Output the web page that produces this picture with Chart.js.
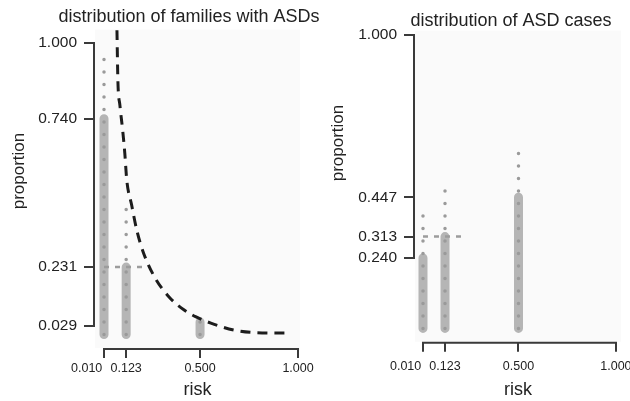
<!DOCTYPE html>
<html>
<head>
<meta charset="utf-8">
<script src="https://cdn.jsdelivr.net/npm/chart.js@4.4.1/dist/chart.umd.min.js"></script>
<style>
  html, body { margin: 0; padding: 0; background: #fff; }
  #wrap { position: relative; width: 630px; height: 401px; overflow: hidden; }
  canvas { position: absolute; top: 0; }
  #families { left: 0; }
  #cases { left: 315px; }
</style>
</head>
<body>
<div id="wrap">
  <canvas id="families" width="378" height="401"></canvas>
  <canvas id="cases" width="315" height="401"></canvas>
</div>
<script>
// ticks shown on the range frames
const riskTicks = [0.010, 0.123, 0.500, 1.000];
const familyTicks = [0.029, 0.231, 0.740, 1.000];
const caseTicks = [0.240, 0.313, 0.447, 1.000];

// left panel: distribution of families
const familyRisk = [0.010, 0.123, 0.500];
const familyTop = [0.740, 0.231, 0.043];
const familyDotTop = [0.975, 0.430, 0.043];
const familyLevel = 0.231;
const familyLevelEnd = 0.232;

// dashed curve in the left panel
const curveRisk = [0.076, 0.081, 0.091, 0.106, 0.116, 0.126, 0.151, 0.177, 0.212, 0.268, 0.343, 0.419, 0.480, 0.555, 0.672, 0.788, 0.909, 0.955];
const curveProp = [1.044, 0.866, 0.787, 0.695, 0.622, 0.530, 0.444, 0.358, 0.279, 0.197, 0.128, 0.084, 0.060, 0.039, 0.015, 0.006, 0.005, 0.005];

// right panel: distribution of cases
const caseRisk = [0.010, 0.123, 0.500];
const caseTop = [0.240, 0.313, 0.447];
const caseDotTop = [0.397, 0.496, 0.618];
const caseLevel = 0.313;
const caseLevelEnd = 0.225;

const FONT = "'Liberation Sans', Arial, Helvetica, sans-serif";
Chart.defaults.font.family = FONT;
Chart.defaults.color = '#222';

// vertical segments from 0 up to each top, broken by nulls
function columns(xs, tops) {
    const pts = [];
    xs.forEach(function(x, i) {
        pts.push({x: x, y: 0}, {x: x, y: tops[i]}, {x: x, y: null});
    });
    return pts;
}

// range frame axes, panel title and rotated y title
const framePlugin = {
    id: 'frame',
    beforeDraw(chart) {
        const a = chart.chartArea, ctx = chart.ctx;
        ctx.save();
        ctx.fillStyle = '#fafafa';
        ctx.fillRect(a.left, a.top, a.right - a.left, a.bottom - a.top);
        ctx.restore();
    },
    afterDraw(chart, args, opts) {
        const ctx = chart.ctx;
        const xs = chart.scales.x, ys = chart.scales.y;
        const xt = xs.ticks, yt = ys.ticks;
        ctx.save();
        ctx.strokeStyle = '#3a3a3a';
        ctx.lineWidth = 2;
        ctx.lineCap = 'square';
        ctx.beginPath();
        ctx.moveTo(xs.getPixelForValue(xt[0].value), xs.top + 1);
        ctx.lineTo(xs.getPixelForValue(xt[xt.length - 1].value), xs.top + 1);
        ctx.moveTo(ys.right - 1, ys.getPixelForValue(yt[0].value));
        ctx.lineTo(ys.right - 1, ys.getPixelForValue(yt[yt.length - 1].value));
        ctx.stroke();

        ctx.fillStyle = '#222';
        ctx.textAlign = 'center';
        ctx.font = '18px ' + FONT;
        ctx.textBaseline = 'alphabetic';
        ctx.fillText(opts.heading, opts.headingX, opts.headingY);

        ctx.translate(opts.yTitleX, opts.yTitleY);
        ctx.rotate(-Math.PI / 2);
        ctx.font = '17px ' + FONT;
        ctx.textBaseline = 'middle';
        ctx.fillText('proportion', 0, 0);
        ctx.restore();
    }
};

function makePanel(id, cfg) {
    const datasets = [];
    if (cfg.curveX) {
        datasets.push({
            data: cfg.curveX.map(function(x, i) { return {x: x, y: cfg.curveY[i]}; }),
            borderColor: '#1c1c1c',
            borderWidth: 3,
            borderDash: [10, 7],
            cubicInterpolationMode: 'monotone',
            pointRadius: 0
        });
    }
    datasets.push({
        data: [{x: cfg.risk[0], y: cfg.level}, {x: cfg.levelEnd, y: cfg.level}],
        borderColor: '#9c9c9c',
        borderWidth: 2.5,
        borderDash: [5, 6],
        pointRadius: 0
    });
    datasets.push({
        data: columns(cfg.risk, cfg.dotTop),
        borderColor: '#9a9a9a',
        borderWidth: 3.5,
        borderDash: [0, 12.5],
        borderCapStyle: 'round',
        spanGaps: false,
        pointRadius: 0
    });
    datasets.push({
        data: columns(cfg.risk, cfg.top),
        borderColor: '#b5b5b5',
        borderWidth: 9,
        borderCapStyle: 'round',
        spanGaps: false,
        pointRadius: 0
    });

    return new Chart(document.getElementById(id), {
        type: 'line',
        data: { datasets: datasets },
        plugins: [framePlugin],
        options: {
            responsive: false,
            animation: false,
            layout: { padding: { left: 0, right: cfg.padRight, top: cfg.padTop, bottom: 0 } },
            plugins: {
                legend: { display: false },
                tooltip: { enabled: false },
                frame: {
                    heading: cfg.title, headingX: cfg.titleX, headingY: cfg.titleY,
                    yTitleX: cfg.yTitleX, yTitleY: cfg.yTitleY
                }
            },
            scales: {
                x: {
                    type: 'linear',
                    min: cfg.xMin,
                    max: cfg.xMax,
                    afterBuildTicks: function(s) { s.ticks = riskTicks.map(function(v) { return {value: v}; }); },
                    afterFit: function(s) { s.height = cfg.xHeight; s.paddingLeft = 0; s.paddingRight = 0; },
                    grid: { drawOnChartArea: false, drawTicks: true, tickLength: 10, color: '#3a3a3a', lineWidth: 2 },
                    border: { display: false },
                    ticks: {
                        autoSkip: false,
                        maxRotation: 0,
                        padding: cfg.xPad,
                        color: '#222',
                        font: { size: 12.5 },
                        // first label sits left of its tick so it clears 0.123
                        callback: function(v, i) { return i === 0 ? v.toFixed(3) + '          ' : v.toFixed(3); }
                    },
                    title: { display: true, text: 'risk', color: '#222', font: { size: 18 }, padding: { top: 0, bottom: 0 } }
                },
                y: {
                    type: 'linear',
                    min: cfg.yMin,
                    max: cfg.yMax,
                    afterBuildTicks: function(s) { s.ticks = cfg.yTicks.map(function(v) { return {value: v}; }); },
                    afterFit: function(s) { s.width = cfg.yWidth; s.paddingTop = 0; s.paddingBottom = 0; },
                    grid: { drawOnChartArea: false, drawTicks: true, tickLength: 11, color: '#3a3a3a', lineWidth: 2 },
                    border: { display: false },
                    ticks: {
                        autoSkip: false,
                        padding: 7,
                        color: '#222',
                        font: { size: 15.5 },
                        callback: function(v) { return v.toFixed(3); }
                    },
                    title: { display: false }
                }
            }
        }
    });
}

makePanel('families', {
    title: 'distribution of families with ASDs',
    titleX: 189, titleY: 22, padTop: 29.6,
    risk: familyRisk, top: familyTop, dotTop: familyDotTop,
    level: familyLevel, levelEnd: familyLevelEnd,
    curveX: curveRisk, curveY: curveProp,
    yTicks: familyTicks,
    xMin: -0.036, xMax: 1.01,
    yMin: -0.0465, yMax: 1.046,
    xHeight: 53, yWidth: 95, padRight: 78, xPad: 3,
    yTitleX: 19, yTitleY: 171
});

makePanel('cases', {
    title: 'distribution of ASD cases',
    titleX: 196, titleY: 26, padTop: 30.6,
    risk: caseRisk, top: caseTop, dotTop: caseDotTop,
    level: caseLevel, levelEnd: caseLevelEnd,
    yTicks: caseTicks,
    xMin: -0.031, xMax: 1.026,
    yMin: -0.0453, yMax: 1.015,
    xHeight: 59.3, yWidth: 100, padRight: 9, xPad: 7.5,
    yTitleX: 23.5, yTitleY: 143
});
</script>
</body>
</html>
